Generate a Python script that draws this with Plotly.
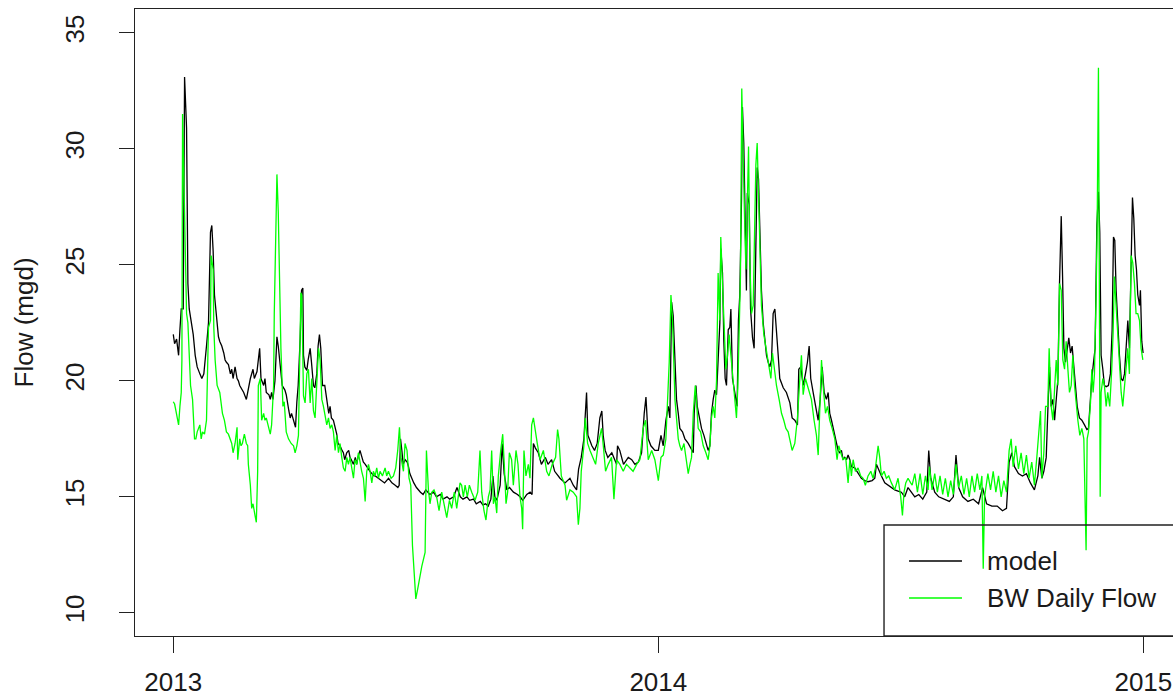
import numpy as np
import pandas as pd
import plotly.graph_objects as go

# Daily flow, 2013-2014: (days since 2013-01-01, flow in mgd)
model_series = [
    (0, 22.0), (1, 21.6), (2.5, 21.8), (4, 21.1), (5, 22.2), (6, 23.1), (7.5, 23.1), (8.5, 33.1),
    (10, 30.9), (11, 24.2), (12, 23.1), (13.5, 22.6), (15, 22.0), (16.5, 21.1), (18, 20.6),
    (20, 20.3), (21.5, 20.1), (23, 20.3), (24, 20.8), (25, 21.5), (26.5, 22.5), (28, 26.4),
    (29, 26.7), (30, 25.6), (31, 23.7), (33, 22.3), (34, 21.9), (35, 21.7), (36.5, 21.5),
    (38, 21.2), (39, 20.9), (40, 20.8), (41.5, 20.7), (43, 20.3), (44, 20.5), (45, 20.1),
    (46.5, 20.6), (48, 20.1), (49, 20.0), (50, 19.8), (53, 19.5), (55, 19.2), (56.5, 19.7),
    (58, 20.1), (60, 20.5), (61, 20.1), (63, 20.4), (65, 21.4), (66, 20.1), (68, 19.8),
    (69, 20.1), (70, 19.5), (72, 19.4), (73, 19.2), (74, 19.5), (75, 19.2), (76.5, 20.0),
    (78, 21.9), (79, 21.5), (80.5, 20.6), (82, 19.8), (84, 19.6), (85, 19.4), (87, 18.7),
    (88, 18.4), (89, 18.6), (90.5, 18.3), (92, 18.0), (93, 19.1), (94, 19.8), (95.5, 21.85),
    (96.5, 23.9), (97.5, 24.0), (98, 21.1), (99, 20.6), (100.5, 20.45), (101.5, 20.9),
    (103, 21.4), (104, 20.8), (105.5, 19.8), (106.5, 19.7), (108, 20.3), (109, 21.5),
    (110, 22.0), (111, 21.4), (112.3, 19.8), (114, 19.8), (115, 19.4), (116, 18.9),
    (117, 18.6), (118, 18.9), (119, 18.4), (120.5, 18.3), (122, 18.0), (123, 17.7),
    (124, 17.3), (125.5, 17.2), (127, 17.0), (128, 16.9), (129, 16.6), (130.5, 16.9),
    (132, 17.0), (133, 16.7), (134, 16.6), (135.5, 16.4), (137, 16.7), (138, 16.4),
    (139, 16.7), (140.5, 17.0), (142, 16.7), (143, 16.5), (144.5, 16.4), (146, 16.25),
    (147, 16.2), (148, 16.1), (149.5, 16.0), (151, 15.9), (152, 15.9), (154.5, 15.8),
    (157, 15.7), (159, 15.6), (162, 15.8), (164.5, 15.6), (167, 15.5), (169, 15.4),
    (170, 15.5), (171, 17.5), (172, 17.0), (173, 16.4), (174.5, 16.6), (176, 16.5),
    (177, 16.3), (178, 16.0), (181, 15.6), (183, 15.4), (186, 15.2), (188, 15.1),
    (190, 15.3), (193, 15.1), (196, 15.2), (198, 15.0), (201, 15.1), (203, 14.9),
    (206, 15.0), (208, 14.9), (211, 15.0), (213.5, 15.4), (216, 15.0), (218, 14.9),
    (221, 15.0), (223, 14.85), (226, 14.9), (228, 14.7), (231, 14.8), (233, 14.65),
    (235, 14.7), (237, 14.6), (239, 14.9), (240.5, 15.9), (242, 15.0), (243.5, 14.85),
    (246, 15.5), (247.5, 17.3), (249, 16.0), (251, 15.3), (253, 15.4), (256, 15.2),
    (259, 15.1), (261, 15.0), (263, 14.85), (266, 15.1), (268.5, 15.2), (270, 15.1),
    (271, 17.3), (272.5, 17.1), (274.7, 16.9), (277, 16.4), (280, 16.7), (282, 16.4),
    (284.7, 16.6), (287, 16.1), (291, 15.8), (294.8, 15.6), (298.5, 15.8), (301, 15.5),
    (303.5, 15.3), (305, 16.2), (307, 16.7), (309, 17.5), (311, 19.5), (312, 17.65),
    (315, 17.2), (317, 17.0), (319, 17.3), (321, 18.4), (322.5, 18.7), (323.5, 17.65),
    (325, 17.0), (327, 16.7), (330, 16.9), (332, 16.6), (333.6, 16.4), (334.3, 17.2),
    (336, 17.0), (338.8, 16.4), (342.4, 16.7), (345, 16.6), (347.4, 16.4), (350, 16.5),
    (352.4, 16.9), (354.4, 18.6), (355.7, 19.3), (357.4, 17.5), (359.4, 17.2),
    (362.4, 17.0), (365, 17.0), (367, 17.65), (368.7, 17.2), (370.7, 18.3), (372.5, 18.9),
    (373.7, 18.4), (375, 23.4), (376.2, 22.8), (377.5, 20.9), (378.7, 19.2), (380, 18.6),
    (381.2, 17.95), (383.2, 17.8), (385, 17.5), (387.5, 17.3), (390, 17.0), (391.3, 16.9),
    (392, 18.6), (393.3, 19.8), (394.3, 18.9), (395.8, 18.4), (397.5, 17.95),
    (399.3, 17.65), (401.3, 17.3), (402.5, 17.0), (403.8, 17.2), (405, 18.6), (406.3, 19.2),
    (407.5, 19.6), (408.8, 19.4), (410, 20.9), (411.3, 22.5), (412, 25.7), (413.3, 24.65),
    (414.3, 21.7), (415.3, 20.1), (416.3, 19.8), (417.6, 22.2), (418.8, 22.3),
    (419.6, 23.1), (420.8, 20.1), (421.8, 19.8), (423.3, 19.2), (424.3, 18.9),
    (425.3, 22.6), (426.3, 23.7), (427.6, 27.8), (428.3, 31.8), (429.3, 30.25),
    (430.3, 26.8), (431.3, 23.9), (432, 28.1), (433.4, 27.6), (434.4, 23.1), (435.9, 21.85),
    (437.1, 21.4), (438.1, 24.8), (439.4, 29.2), (440.4, 28.7), (441.4, 25.9),
    (442.6, 23.9), (443.9, 22.5), (445.1, 21.7), (446.4, 21.1), (447.7, 20.8),
    (448.9, 20.6), (450.2, 20.9), (451.4, 22.9), (452.7, 23.1), (453.9, 22.3),
    (455.2, 21.1), (456.4, 20.1), (459, 19.7), (461.4, 19.5), (464, 19.05), (465.7, 18.4),
    (467.7, 18.3), (469.7, 18.1), (470.7, 20.5), (472.2, 20.6), (474, 19.8), (475.7, 20.3),
    (477.2, 20.8), (478.5, 21.5), (479.7, 20.1), (481.5, 19.5), (483.2, 18.9),
    (485.3, 18.3), (486.8, 19.2), (488.3, 20.6), (489.8, 19.5), (491.5, 19.2),
    (492.8, 19.5), (494, 18.6), (495.3, 18.3), (496.5, 17.95), (497.8, 17.65), (499, 17.3),
    (500.3, 17.0), (501.5, 16.9), (502.8, 17.0), (504, 16.6), (505.3, 16.7), (506.6, 16.6),
    (507.8, 16.8), (509.1, 16.6), (510.3, 16.3), (512.8, 16.25), (515.3, 16.0),
    (517.8, 15.8), (520.3, 15.7), (522.8, 15.65), (525.9, 15.7), (527.9, 15.8),
    (529.1, 16.4), (530.4, 16.25), (532.9, 15.9), (535.4, 15.6), (537.9, 15.5),
    (540.4, 15.4), (542.9, 15.3), (545.4, 15.25), (547.9, 15.2), (550.4, 15.0),
    (552.9, 15.4), (555.4, 15.2), (558, 15.0), (561, 15.1), (564, 14.9), (567, 15.2),
    (568.5, 17.0), (570, 15.8), (573, 15.2), (576, 15.0), (580, 14.9), (584, 14.8),
    (587, 15.0), (589, 16.8), (591, 15.4), (594, 15.0), (598, 14.8), (602, 14.9),
    (606, 14.7), (609, 15.4), (612, 14.7), (616, 14.6), (620, 14.6), (624, 14.4),
    (627, 14.5), (629, 16.5), (631, 16.9), (633, 16.3), (636, 16.0), (639, 15.9),
    (642, 16.0), (645, 15.6), (648, 15.3), (650.6, 15.9), (651.9, 16.7), (653.6, 15.8),
    (655.1, 16.1), (656.9, 16.7), (658.1, 18.7), (659.4, 20.6), (660.6, 18.9),
    (661.9, 19.2), (663.2, 18.3), (664.4, 19.2), (665.7, 20.1), (666.9, 24.2),
    (668.2, 27.1), (669.2, 24.5), (670.2, 21.4), (671.4, 20.8), (672.7, 21.4),
    (673.9, 21.85), (675.2, 21.2), (676.4, 21.5), (677.7, 20.6), (678.9, 19.8),
    (680.2, 18.9), (681.9, 18.4), (683.7, 18.3), (685.7, 18.1), (687.5, 17.9),
    (688.7, 17.95), (690, 19.2), (691.2, 20.1), (692.5, 20.8), (693.7, 21.4), (695, 26.7),
    (696.2, 28.15), (697.2, 26.4), (698.2, 21.1), (699.5, 20.5), (700.7, 19.8),
    (702, 19.75), (703.7, 19.8), (705.2, 20.3), (706.5, 22.2), (707.5, 26.2),
    (708.5, 26.05), (709.5, 23.9), (710.8, 22.2), (712, 21.1), (713.3, 20.1), (714.5, 20.0),
    (715.8, 20.3), (717, 21.7), (718.3, 22.6), (719.5, 21.4), (720.8, 25.6), (721.8, 27.9),
    (722.8, 27.0), (723.8, 25.4), (724.8, 24.8), (725.8, 23.7), (727.1, 23.25),
    (727.8, 23.9), (728.8, 21.7), (729.8, 21.2),
]

observed_series = [
    (0, 19.1), (1, 19.0), (2, 18.7), (4, 18.1), (5, 18.9), (6, 19.5), (6.5, 20.9), (7, 31.5),
    (8, 28.7), (9, 25.0), (10, 22.9), (11, 22.5), (12, 21.4), (13, 19.8), (14.5, 19.2),
    (16, 17.5), (17, 17.5), (18, 17.8), (20, 18.1), (21, 17.5), (22, 17.8), (23.5, 17.7),
    (25, 18.3), (25.5, 19.8), (26.5, 22.3), (28, 22.6), (28.5, 25.4), (30, 24.8),
    (30.5, 22.3), (31.5, 20.9), (33, 19.8), (35, 19.5), (36, 19.1), (37, 18.6), (38.5, 18.3),
    (40, 17.8), (41.5, 17.7), (43, 17.5), (44, 17.3), (45, 16.9), (46.5, 17.3), (48, 18.0),
    (48.5, 16.6), (50, 17.5), (51, 17.2), (52, 17.3), (53.5, 17.7), (55, 17.3), (56, 17.2),
    (56.5, 16.4), (58, 15.5), (59, 14.5), (60, 14.7), (61.5, 14.2), (62.5, 13.9),
    (63.5, 16.1), (64, 19.8), (65.5, 20.1), (66.5, 18.3), (68, 18.6), (69, 18.3), (70, 18.4),
    (71.5, 18.0), (73, 17.7), (74, 18.1), (75.5, 19.8), (76, 22.9), (77, 27.0), (78, 28.9),
    (79, 27.3), (80, 24.2), (81, 21.4), (82.5, 18.9), (83.5, 19.1), (85, 17.8), (86.7, 17.5),
    (88.7, 17.3), (90.5, 17.2), (91.7, 16.9), (93, 17.2), (94.2, 17.65), (95, 21.2),
    (96, 23.8), (96.7, 23.7), (98, 19.35), (99.2, 19.05), (100.5, 20.3), (101.7, 20.5),
    (103, 19.05), (104.2, 20.1), (105.5, 18.7), (106.7, 18.4), (108, 19.8), (109.3, 21.4),
    (110.5, 20.9), (111.8, 19.2), (113, 18.9), (114.3, 18.4), (115.5, 18.1), (116.8, 18.4),
    (118, 17.95), (119.3, 18.1), (120.5, 17.8), (121.8, 17.0), (123, 17.65), (124.3, 16.9),
    (125.5, 17.3), (126.8, 16.7), (128, 16.25), (129.3, 16.1), (130.6, 16.7), (131.8, 16.4),
    (133, 16.7), (134.3, 16.25), (135.6, 15.8), (136.8, 16.6), (138.1, 16.4), (139.3, 16.9),
    (140.6, 16.4), (141.8, 16.1), (143.1, 15.8), (144.4, 14.8), (145.6, 16.1),
    (146.9, 16.4), (148.1, 16.1), (149.4, 15.6), (150.6, 16.1), (151.9, 15.9),
    (153.1, 16.25), (154.4, 15.8), (155.6, 16.1), (157.4, 15.9), (159.4, 16.25),
    (160.6, 15.9), (161.9, 16.1), (163.9, 15.8), (165.7, 15.9), (167.4, 16.25),
    (168.9, 17.0), (170.2, 18.0), (171.4, 16.7), (173.2, 16.1), (174.4, 17.3),
    (175.9, 17.0), (177.4, 15.8), (178.7, 15.5), (180, 12.9), (181.4, 11.5), (182.5, 10.6),
    (184.5, 11.2), (187, 12.0), (189.5, 12.6), (190.5, 17.0), (192, 15.3), (193.2, 14.7),
    (194.5, 15.2), (196.2, 15.3), (198.2, 15.0), (200, 14.4), (202, 15.2), (203.8, 14.7),
    (205.8, 14.1), (207.8, 14.85), (209.5, 14.5), (211.5, 15.2), (213.3, 14.5),
    (215.8, 15.6), (217, 15.5), (218.3, 15.0), (219.6, 15.5), (221.3, 15.0), (222.8, 15.5),
    (224.6, 15.2), (227.1, 14.85), (229.1, 15.2), (230.8, 17.0), (232.1, 15.2),
    (233.8, 14.4), (235.3, 14.0), (237.1, 15.0), (238.4, 15.3), (239.6, 17.0),
    (240.9, 14.7), (242.1, 15.0), (243.4, 14.3), (244.6, 15.9), (246.4, 17.0),
    (247.9, 17.7), (249.1, 16.4), (250.4, 14.7), (251.6, 15.2), (252.9, 16.9),
    (254.6, 16.6), (255.9, 15.5), (257.9, 17.0), (259.4, 16.4), (260.9, 15.0),
    (262.2, 14.5), (262.9, 13.6), (263.9, 17.0), (265.4, 15.9), (267.2, 16.4),
    (268.4, 15.8), (269.7, 18.1), (271, 18.4), (272.4, 17.95), (273.9, 17.3), (276, 16.6),
    (278.5, 17.0), (281, 16.1), (282.7, 15.9), (285.2, 16.4), (287.7, 16.7), (289.2, 17.9),
    (290.2, 17.5), (292, 15.9), (294.8, 15.5), (296, 14.85), (298.5, 15.3), (301, 15.2),
    (303.5, 15.0), (304.8, 13.8), (306, 14.5), (307, 16.1), (309, 17.2), (310, 18.4),
    (311.8, 17.3), (313.6, 17.0), (316, 16.7), (317.8, 16.4), (319.8, 17.3), (322.3, 17.95),
    (323.6, 17.2), (325.3, 16.1), (327.3, 16.4), (329.8, 16.7), (331.6, 14.9),
    (333.6, 16.6), (336.1, 16.4), (338.6, 16.1), (341, 16.4), (343.6, 16.25), (346, 16.1),
    (348.7, 16.4), (351.1, 16.6), (353.6, 17.95), (355.4, 18.3), (357.4, 16.6), (360, 17.0),
    (362.4, 16.6), (365, 15.7), (367, 16.7), (368.7, 16.8), (370.7, 17.5), (371.7, 18.6),
    (373.2, 20.8), (374.5, 23.7), (375.7, 22.6), (377.5, 19.2), (378.7, 18.3), (380, 17.5),
    (381.2, 17.2), (382.5, 17.0), (384.3, 17.3), (385.8, 16.7), (387.5, 16.0),
    (388.8, 16.4), (390, 16.7), (391.3, 18.6), (392.8, 19.8), (393.8, 19.05), (395, 17.95),
    (396.8, 17.8), (398.8, 17.2), (400.8, 16.9), (402.5, 16.6), (403.8, 17.2), (405, 18.4),
    (406.3, 18.9), (407.5, 18.4), (408.8, 20.0), (410, 24.65), (411.3, 22.6), (412, 26.2),
    (413.3, 24.2), (414.6, 22.2), (415.8, 20.5), (417.1, 21.1), (418.3, 22.0),
    (419.6, 21.1), (421.3, 20.1), (422.6, 19.05), (423.8, 18.4), (424.8, 19.7),
    (425.8, 22.6), (426.8, 24.5), (427.8, 32.6), (428.9, 28.7), (429.8, 27.3),
    (430.9, 24.8), (431.9, 28.25), (432.9, 30.1), (433.9, 25.1), (435.1, 22.9),
    (436.4, 23.25), (437.4, 25.7), (438.4, 29.3), (439.4, 30.25), (440.4, 27.9),
    (441.4, 24.8), (442.6, 23.25), (444.4, 22.0), (445.9, 21.4), (447.7, 20.8),
    (449.7, 20.1), (450.9, 21.2), (452.2, 20.5), (453.9, 19.8), (455.9, 19.2),
    (457.7, 18.6), (459.4, 18.3), (461, 17.95), (462.7, 17.8), (464, 17.5), (465.7, 17.0),
    (467.7, 17.3), (469.7, 18.4), (471.5, 20.1), (472.7, 21.1), (474, 19.4), (475.7, 20.1),
    (477.2, 19.8), (479, 19.5), (480.2, 19.2), (482.2, 18.3), (484, 17.65), (485.3, 16.8),
    (486.5, 18.6), (487.8, 20.9), (489, 19.8), (490.8, 18.6), (492.3, 18.9), (494, 18.3),
    (495.8, 17.95), (497.8, 17.5), (499.5, 16.6), (500.8, 17.2), (502.3, 16.9),
    (504, 16.6), (506, 16.7), (507.8, 15.6), (509.1, 16.6), (510.3, 15.9), (511.6, 16.6),
    (513.3, 16.1), (515.3, 16.25), (517.3, 15.9), (519.1, 15.8), (520.8, 15.5),
    (522.8, 15.9), (524.9, 16.1), (526.6, 15.8), (528.4, 16.25), (530.4, 17.2),
    (531.6, 16.7), (532.9, 15.9), (534.9, 16.1), (536.6, 15.8), (538.4, 15.9),
    (540.4, 15.6), (542.9, 15.3), (545.4, 15.8), (547.4, 15.0), (548.7, 14.2),
    (549.9, 15.2), (551.2, 15.6), (552.9, 15.8), (554.9, 15.6), (556, 15.5), (558, 16.0),
    (560, 15.2), (562, 16.0), (564, 15.1), (566, 15.9), (568, 15.3), (569, 16.3),
    (571, 15.3), (573, 16.0), (575, 15.2), (577, 15.9), (579, 15.1), (581, 15.8),
    (583, 15.0), (585, 15.7), (587, 15.1), (589, 16.4), (591, 15.4), (593, 15.9),
    (595, 15.1), (597, 15.8), (599, 15.0), (601, 15.9), (603, 15.2), (605, 16.0),
    (607, 15.3), (608.5, 15.9), (609.5, 11.9), (610.5, 15.0), (613, 16.0), (615, 15.3),
    (617, 16.1), (619, 15.2), (621, 15.9), (623, 15.0), (625, 15.7), (627, 15.2),
    (629, 17.0), (630.5, 17.5), (632, 16.3), (634, 17.2), (636, 16.2), (638, 16.9),
    (640, 16.0), (642, 16.8), (644, 15.8), (646, 16.5), (648, 15.5), (650.1, 16.9),
    (651.1, 17.65), (652.6, 18.7), (653.6, 15.8), (655.1, 16.9), (656.4, 18.9),
    (658.1, 18.9), (659.1, 21.4), (660.6, 18.9), (661.9, 18.3), (663.2, 19.5),
    (664.4, 20.9), (665.7, 19.8), (666.9, 24.2), (668.2, 23.9), (669.4, 20.9),
    (670.7, 20.5), (671.9, 21.7), (673.2, 20.5), (674.4, 19.5), (675.7, 19.8),
    (676.9, 21.1), (678.2, 19.8), (679.4, 18.9), (680.7, 18.3), (682.2, 17.65),
    (683.7, 17.95), (685.2, 17.5), (686.2, 14.9), (686.9, 12.7), (687.7, 17.5),
    (688.7, 17.8), (690.2, 19.05), (691.2, 20.5), (692.2, 19.5), (693.2, 20.3),
    (694.5, 23.9), (695.2, 26.5), (696.2, 33.5), (697, 20.3), (697.5, 15.0), (698.2, 19.5),
    (699.5, 20.1), (700.7, 19.8), (702, 18.9), (703.2, 19.5), (704.7, 18.9), (706.2, 20.5),
    (707.2, 22.0), (708.2, 24.5), (709.5, 23.25), (710.8, 21.7), (712, 20.8),
    (713.3, 19.5), (714.5, 18.9), (715.8, 19.8), (717, 20.8), (718.3, 21.4), (719.5, 20.3),
    (720.8, 25.4), (722, 25.1), (723.3, 24.2), (724.5, 22.9), (725.8, 22.9),
    (727.1, 22.6), (728.3, 21.4), (729.6, 20.9),
]

year_ticks = ["2013-01-01", "2014-01-01", "2015-01-01"]
year_labels = ["2013", "2014", "2015"]
flow_ticks = [10, 15, 20, 25, 30, 35]

series_names = ["model", "BW Daily Flow"]
series_colors = ["#000000", "#00ff00"]

origin = pd.Timestamp("2013-01-01")


def to_dates(days):
    return origin + pd.to_timedelta(np.asarray(days, dtype=float), unit="D")


model_day, model_flow = zip(*model_series)
obs_day, obs_flow = zip(*observed_series)

fig = go.Figure()
fig.add_trace(go.Scatter(x=to_dates(model_day), y=list(model_flow), mode="lines",
                         name=series_names[0], line=dict(color=series_colors[0], width=1.3)))
fig.add_trace(go.Scatter(x=to_dates(obs_day), y=list(obs_flow), mode="lines",
                         name=series_names[1], line=dict(color=series_colors[1], width=1.3)))

font = dict(family="Arial, Liberation Sans, sans-serif", size=26, color="#1a1a1a")
axis_color = "#222222"

fig.update_layout(
    width=1173, height=698,
    margin=dict(l=135, r=0, t=9, b=62),
    paper_bgcolor="white", plot_bgcolor="white",
    showlegend=False,
    font=font,
    xaxis=dict(
        type="date",
        range=["2012-12-03 04:48", "2015-01-23 07:12"],
        tickmode="array", tickvals=year_ticks, ticktext=year_labels,
        ticks="outside", ticklen=16, tickwidth=1.3, tickcolor=axis_color,
        showline=True, linecolor=axis_color, linewidth=1.4, mirror=True,
        showgrid=False, zeroline=False, automargin=False,
        ticklabelstandoff=7,
        tickfont=font,
    ),
    yaxis=dict(
        range=[9.0, 36.03],
        tickmode="array", tickvals=flow_ticks,
        ticks="outside", ticklen=15, tickwidth=1.3, tickcolor=axis_color,
        showline=True, linecolor=axis_color, linewidth=1.4, mirror=False,
        showgrid=False, zeroline=False, automargin=False,
        tickangle=-90,
        ticklabelstandoff=24,
        tickfont=font,
    ),
)

# y-axis title
fig.add_annotation(text="Flow (mgd)", xref="paper", yref="paper",
                   x=-0.107, y=0.5, xanchor="center", yanchor="middle",
                   textangle=-90, showarrow=False, font=font)

# legend box in the lower right corner of the plot
legend_left = 0.7216
legend_top = 0.177
fig.add_shape(type="rect", xref="paper", yref="paper",
              x0=legend_left, x1=1.02, y0=0.0, y1=legend_top,
              line=dict(color=axis_color, width=1.4), fillcolor="rgba(0,0,0,0)")
legend_rows = [0.1196, 0.0606]
for name, color, ry in zip(series_names, series_colors, legend_rows):
    fig.add_shape(type="line", xref="paper", yref="paper",
                  x0=0.7457, x1=0.7967, y0=ry, y1=ry,
                  line=dict(color=color, width=1.4))
    fig.add_annotation(text=name, xref="paper", yref="paper",
                       x=0.8185, y=ry, xanchor="left", yanchor="middle",
                       showarrow=False, font=font)

fig.write_html("out.html")
